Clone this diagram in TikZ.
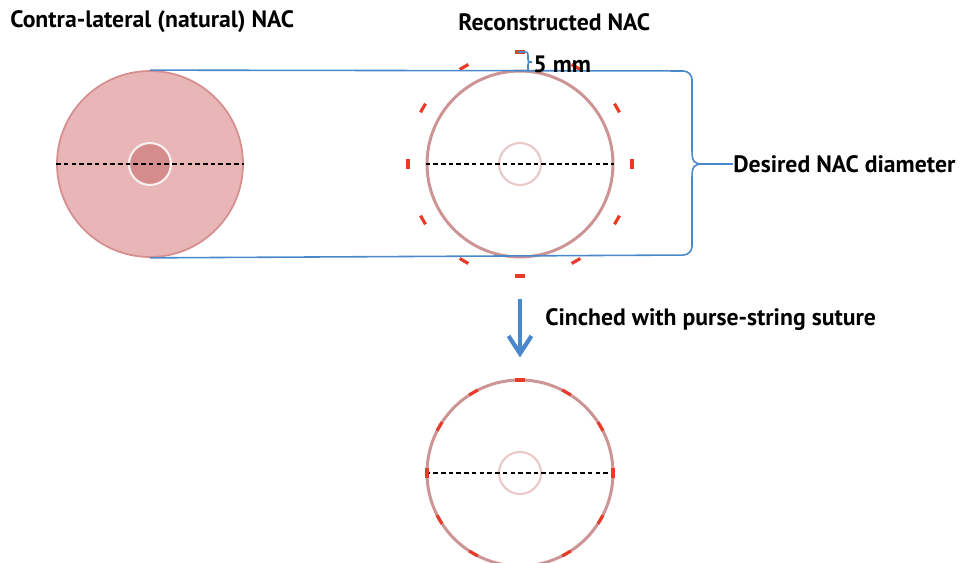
\documentclass[tikz,border=0pt]{standalone}
\usepackage{fontspec}
\setmainfont{PT Sans}
\usetikzlibrary{arrows.meta}
\definecolor{natfill}{HTML}{E8B6B6}
\definecolor{natedge}{HTML}{D68E8E}
\definecolor{nipfill}{HTML}{D48C8C}
\definecolor{recedge}{HTML}{CC9494}
\definecolor{recnip}{HTML}{EBC8C8}
\definecolor{suturered}{HTML}{EA3B28}
\definecolor{bracketblue}{HTML}{4A88CC}
\begin{document}
\begin{tikzpicture}[x=.02cm,y=-.02cm]
      \tikzstyle{caption} = [font=\bfseries\fontsize{13.5}{15}\selectfont,inner sep=0pt,anchor=west];
      \tikzstyle{nac} = [circle,minimum size=3.72cm,inner sep=0pt];
      \tikzstyle{nipple} = [circle,minimum size=.84cm,inner sep=0pt];
      \tikzstyle{diam} = [black,line width=1pt,dash pattern=on 2.6pt off 1.8pt];
      \tikzstyle{suture} = [suturered,line width=1.8pt];
      \tikzstyle{bracket} = [bracketblue,line width=.9pt];
      \useasboundingbox (0,0) rectangle (968,563);
      % titles
      \node[caption] (t1) at (10,22) {Contra-lateral (natural) NAC};
      \node[caption] (t2) at (458,22) {Reconstructed NAC};
      % natural NAC
      \node[nac,fill=natfill,draw=natedge,line width=1pt] (natural) at (150,164) {};
      \node[nipple,fill=nipfill,draw=white!80!natfill,line width=1.2pt] (natnip) at (150,164) {};
      \draw[diam] (natural.west) -- (natural.east);
      % reconstructed NAC
      \node[nac,draw=recedge,line width=1.7pt] (recon) at (520,164) {};
      \node[nipple,draw=recnip,line width=1.2pt] (recnip) at (520,164) {};
      \draw[diam] (recon.west) -- (recon.east);
      \foreach \a in {0,30,...,330}
        \draw[suture] (recon.center) ++(\a:112) ++(\a+90:5) -- ++(\a-90:10);
      % desired diameter bracket
      \node[caption] (desired) at (733,164) {Desired NAC diameter};
      \draw[bracket,rounded corners=5pt] (natural.north) -- (692,71) -- (692,150);
      \draw[bracket,rounded corners=5pt] (natural.south) -- (692,255) -- (692,178);
      \draw[bracket] (692,150) .. controls (692,162) and (694,164) .. (703,164)
            .. controls (694,164) and (692,166) .. (692,178);
      \draw[bracket] (703,164) -- (desired.west);
      % 5 mm
      \node[caption] (mm) at (533,64) {5 mm};
      \draw[bracket] (518,52) -- (523,52) .. controls (528,52) .. (528,57) -- (528,59)
            .. controls (528,62) .. (532,62) .. controls (528,62) .. (528,65) -- (528,71);
      % cinched NAC
      \node[nac,draw=recedge,line width=1.7pt] (cinched) at (520,473) {};
      \node[nipple,draw=recnip,line width=1.2pt] (cinnip) at (520,473) {};
      \draw[diam] (cinched.west) -- (cinched.east);
      \foreach \a in {0,30,...,330}
        \draw[suture] (cinched.center) ++(\a:93) ++(\a+90:5) -- ++(\a-90:10);
      \draw[bracketblue,line width=2.4pt,-{Straight Barb[length=10pt,width=13pt]},
            shorten <=23pt,shorten >=12pt] (recon.south) -- (cinched.north);
      \node[caption] (cinch) at (545,320) {Cinched with purse-string suture};
\end{tikzpicture}
\end{document}
